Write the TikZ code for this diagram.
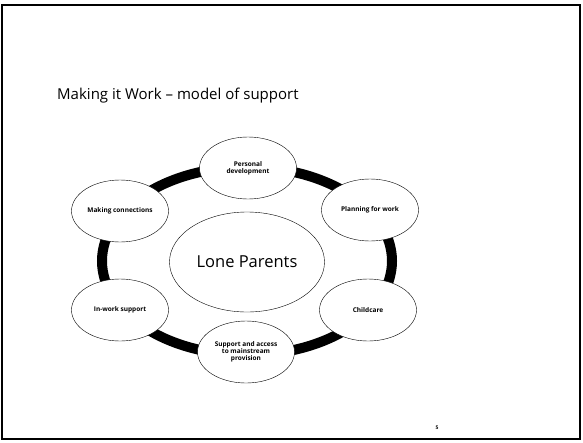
\documentclass[tikz,border=0pt]{standalone}
\usepackage{fontspec}
\setmainfont{Open Sans}
\usepackage{tikz}
\usetikzlibrary{shapes.geometric}

\begin{document}
\begin{tikzpicture}[x=1pt, y=-1pt,
    stage/.style={draw, thin, fill=white, ellipse, minimum width=97pt, minimum height=62pt,
        inner sep=1pt, align=center, font=\bfseries\fontsize{6.5}{6.8}\selectfont},
    hub/.style={draw, thin, fill=white, ellipse, minimum width=155pt, minimum height=100pt,
        font=\fontsize{16.5}{18}\selectfont},
    ring/.style={line width=10pt}]
    \useasboundingbox (0,0) rectangle (583,442);

    % Slide frame
    \draw[line width=1.5pt] (2,5) rectangle (580,439);

    % Title
    \node[anchor=base west, inner sep=0pt, font=\fontsize{15}{17}\selectfont] (title) at (57,99)
        {Making it Work -- model of support};

    % Ring behind the stages
    \coordinate (mid) at (247,261);
    \draw[ring] (mid) ellipse [x radius=145, y radius=94];

    % Centre
    \node[hub] (lone) at (247,262) {Lone Parents};

    % Stages of support
    \node[stage] (personal)  at (248,168) {Personal\\development};
    \node[stage] (planning)  at (370,210) {Planning for work};
    \node[stage] (childcare) at (368,310) {Childcare};
    \node[stage] (access)    at (246,352) {Support and access\\to mainstream\\provision};
    \node[stage] (inwork)    at (120,310) {In-work support};
    \node[stage] (connect)   at (120,211) {Making connections};

    % Page number
    \node[font=\bfseries\fontsize{5}{5}\selectfont] (page) at (437,428) {5};
\end{tikzpicture}
\end{document}
